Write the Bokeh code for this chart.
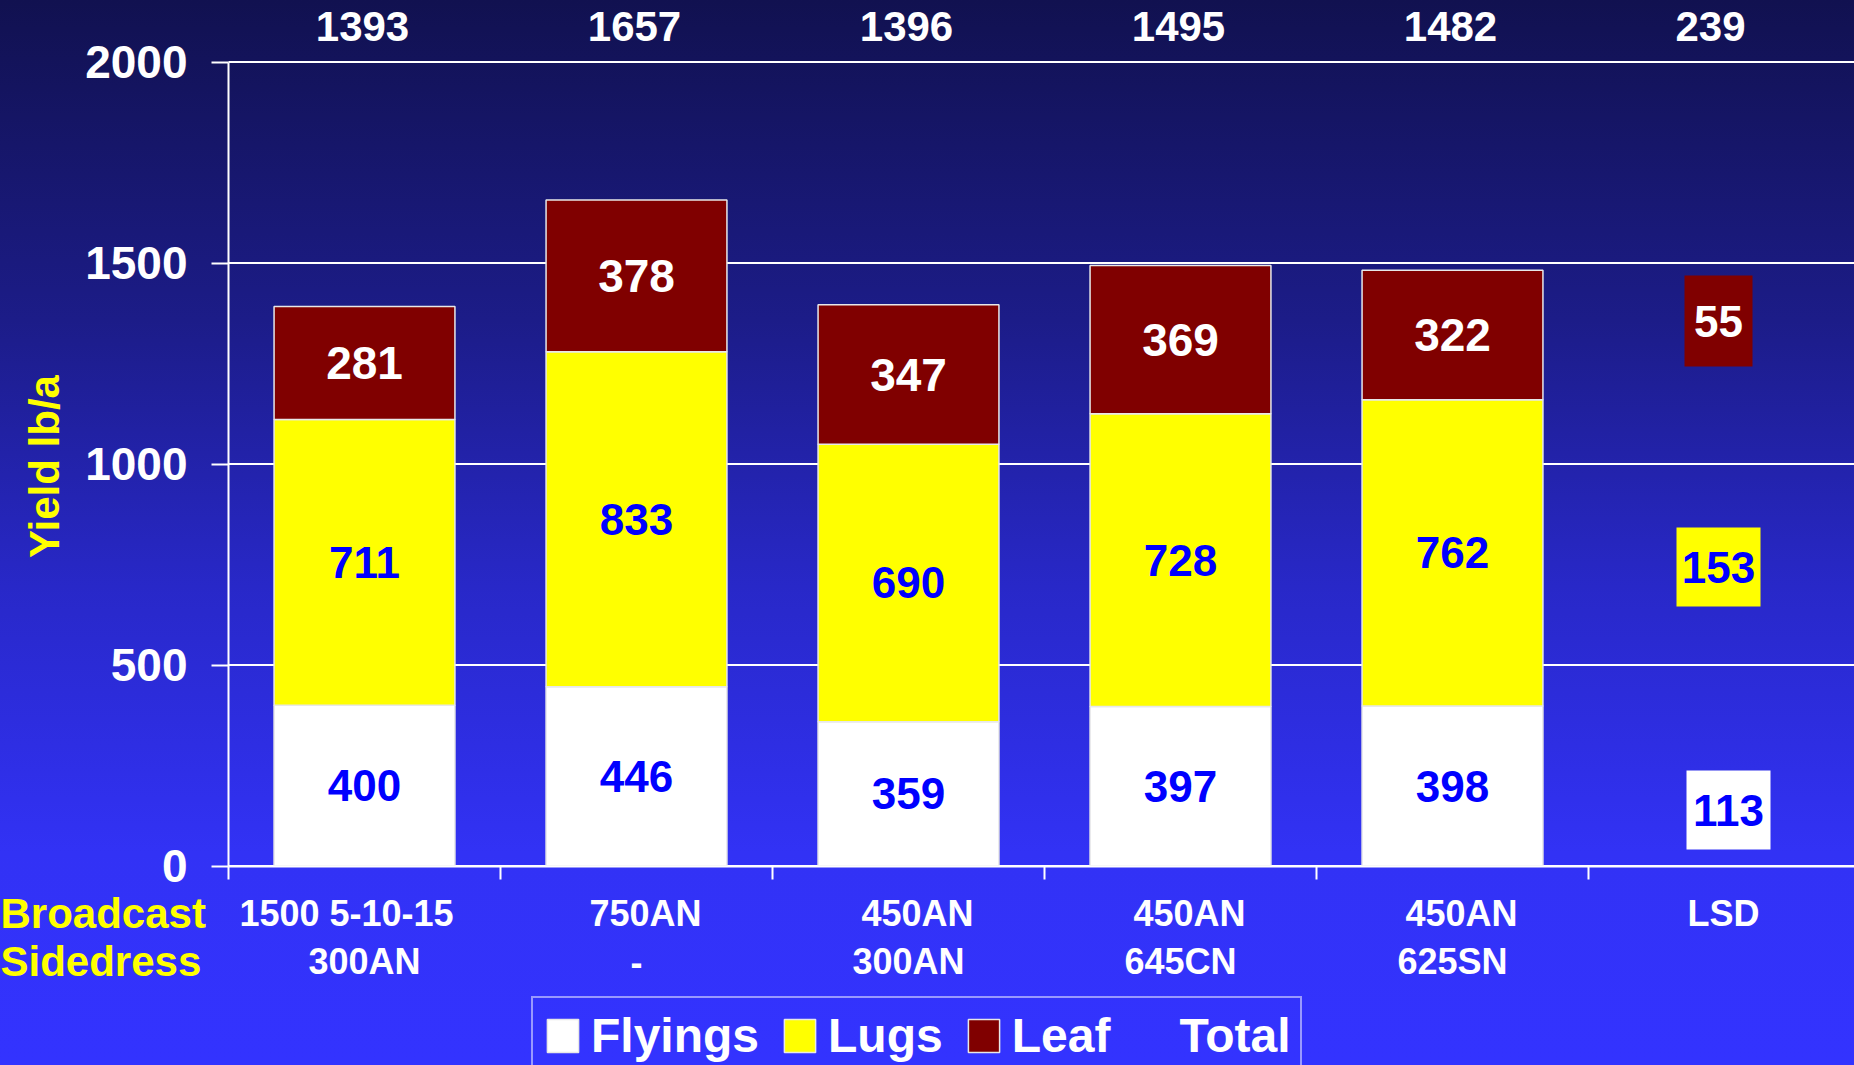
import numpy as np
from bokeh.plotting import figure
from bokeh.models import (Range1d, FixedTicker, ColumnDataSource, LabelSet, Label,
                          Legend, LegendItem)
from bokeh.core.properties import value
from bokeh.embed import file_html
from bokeh.resources import INLINE

# ---------------- data ----------------
broadcast = ["1500 5-10-15", "750AN", "450AN", "450AN", "450AN", "LSD"]
sidedress = ["300AN", "-", "300AN", "645CN", "625SN", ""]
flyings = [400, 446, 359, 397, 398]
lugs = [711, 833, 690, 728, 762]
leaf = [281, 378, 347, 369, 322]
totals = [1393, 1657, 1396, 1495, 1482]
lsd_flyings = 113
lsd_lugs = 153
lsd_leaf = 55
lsd_total = 239
y_ticks = [0, 500, 1000, 1500, 2000]
series_names = ["Flyings", "Lugs", "Leaf", "Total"]
row_headers = ["Broadcast", "Sidedress"]
axis_title = "Yield lb/a"

# ---------------- layout / style ----------------
W, H = 1854, 1065
X0_PX = 228          # pixel of x = 0 (y axis)
CAT_PX = 272         # pixels per category
Y0_PX = 865.5        # pixel of y = 0
PPY = 0.402          # pixels per lb/a
FONT = "Liberation Sans"
BLUE = "#0000ff"
YELLOW = "#ffff00"
MAROON = "#800000"
BAR_W = 0.665
BROADCAST_DX = [-18, 9, 9, 9, 9, -1]     # label nudges (pixels)
TOTAL_DX = [-2, -2, -2, -2, -2, -14]


def px_x(px):
    return (px - X0_PX) / CAT_PX


def px_y(py):
    return (Y0_PX - py) / PPY


p = figure(width=W, height=H,
           x_range=Range1d(px_x(0), px_x(W)), y_range=Range1d(px_y(H), px_y(0)),
           output_backend="svg", toolbar_location=None,
           min_border_left=0, min_border_right=0, min_border_top=0, min_border_bottom=0,
           background_fill_alpha=0, border_fill_alpha=0, outline_line_color=None)
p.styles = {
    "position": "fixed", "left": "0px", "top": "0px",
    "background": "linear-gradient(to bottom, #111150 0%, #1c1c88 30%, #2828c8 55%, #3232f5 80%, #3333ff 100%)",
}

n = len(flyings)
n_cat = n + 1

# axes (drawn at data zero, spanning only the data area)
p.yaxis.fixed_location = 0
p.yaxis.bounds = (y_ticks[0], y_ticks[-1])
p.yaxis.ticker = FixedTicker(ticks=y_ticks)
p.yaxis.major_label_text_font = FONT
p.yaxis.major_label_text_font_style = "bold"
p.yaxis.major_label_text_font_size = "46px"
p.yaxis.major_label_text_color = "white"
p.yaxis.axis_line_color = "white"
p.yaxis.axis_line_width = 2
p.yaxis.major_tick_line_color = "white"
p.yaxis.major_tick_line_width = 2
p.yaxis.major_tick_out = 17
p.yaxis.major_tick_in = 0
p.yaxis.minor_tick_line_color = None
p.yaxis.major_label_standoff = 24

p.xaxis.fixed_location = 0
p.xaxis.bounds = (0, n_cat)
p.xaxis.ticker = FixedTicker(ticks=list(range(n_cat)))
p.xaxis.major_label_overrides = {i: "" for i in range(n_cat)}
p.xaxis.axis_line_color = "white"
p.xaxis.axis_line_width = 2
p.xaxis.major_tick_line_color = "white"
p.xaxis.major_tick_line_width = 2
p.xaxis.major_tick_out = 13
p.xaxis.major_tick_in = 0
p.xaxis.minor_tick_line_color = None

p.xgrid.visible = False
p.ygrid.visible = False

# horizontal grid lines
p.segment(x0=[0] * len(y_ticks), x1=[n_cat] * len(y_ticks), y0=y_ticks, y1=y_ticks,
          line_color="white", line_width=2)

# stacked bars
x = np.arange(n) + 0.5
fly = np.array(flyings, dtype=float)
lug = np.array(lugs, dtype=float)
lf = np.array(leaf, dtype=float)
src = ColumnDataSource(dict(
    x=x,
    fly_top=fly,
    lug_bottom=fly, lug_top=fly + lug,
    leaf_bottom=fly + lug, leaf_top=fly + lug + lf,
    fly_mid=fly / 2, lug_mid=fly + lug / 2, leaf_mid=fly + lug + lf / 2,
    fly_txt=[str(v) for v in flyings],
    lug_txt=[str(v) for v in lugs],
    leaf_txt=[str(v) for v in leaf],
))

r_fly = p.vbar(x="x", bottom=0, top="fly_top", width=BAR_W, source=src,
               fill_color="white", line_color="#e8e8e8", line_width=1.5)
r_lug = p.vbar(x="x", bottom="lug_bottom", top="lug_top", width=BAR_W, source=src,
               fill_color=YELLOW, line_color="#e8e8e8", line_width=1.5)
r_leaf = p.vbar(x="x", bottom="leaf_bottom", top="leaf_top", width=BAR_W, source=src,
                fill_color=MAROON, line_color="#e8e8e8", line_width=1.5)
r_total = p.vbar(x=[], top=[], width=BAR_W, fill_alpha=0, line_alpha=0)


def labels(source, xf, yf, tf, color, size, align="center", dx=0):
    return LabelSet(x=xf, y=yf, text=tf, source=source, x_offset=dx,
                    text_align=align, text_baseline="middle",
                    text_color=color, text_font=value(FONT),
                    text_font_style="bold", text_font_size=size)


p.add_layout(labels(src, "x", "fly_mid", "fly_txt", BLUE, "44px"))
p.add_layout(labels(src, "x", "lug_mid", "lug_txt", BLUE, "44px"))
p.add_layout(labels(src, "x", "leaf_mid", "leaf_txt", "white", "46px"))

# LSD column boxes
lsd_src = ColumnDataSource(dict(
    x=[px_x(1728), px_x(1718), px_x(1718)],
    y=[px_y(809.5), px_y(566.5), px_y(320.5)],
    w=[84, 84, 68], h=[79, 79, 91],
    fill=["white", YELLOW, MAROON],
    tc=[BLUE, BLUE, "white"],
    txt=[str(lsd_flyings), str(lsd_lugs), str(lsd_leaf)],
))
p.rect(x="x", y="y", width="w", height="h", width_units="screen", height_units="screen",
       fill_color="fill", line_color=None, source=lsd_src)
p.add_layout(LabelSet(x="x", y="y", text="txt", source=lsd_src,
                      text_align="center", text_baseline="middle",
                      text_color="tc", text_font=value(FONT),
                      text_font_style="bold", text_font_size="44px"))

# totals above the plot
tot_src = ColumnDataSource(dict(
    x=np.arange(n_cat) + 0.5,
    y=[px_y(26)] * n_cat,
    dx=TOTAL_DX,
    txt=[str(v) for v in totals] + [str(lsd_total)],
))
p.add_layout(labels(tot_src, "x", "y", "txt", "white", "42px", dx="dx"))

# category labels below the axis
cat_src = ColumnDataSource(dict(
    x=np.arange(n_cat) + 0.5,
    y1=[px_y(913)] * n_cat,
    y2=[px_y(961)] * n_cat,
    dx=BROADCAST_DX,
    b=broadcast, s=sidedress,
))
p.add_layout(labels(cat_src, "x", "y1", "b", "white", "36px", dx="dx"))
p.add_layout(labels(cat_src, "x", "y2", "s", "white", "36px"))

# row headers
hdr_src = ColumnDataSource(dict(
    x=[px_x(0), px_x(0)], y=[px_y(913), px_y(961)], txt=row_headers,
))
p.add_layout(labels(hdr_src, "x", "y", "txt", YELLOW, "42px", align="left"))

# y axis title
p.add_layout(Label(x=px_x(43.5), y=px_y(466), text=axis_title, angle=np.pi / 2,
                   text_align="center", text_baseline="middle",
                   text_color=YELLOW, text_font=FONT, text_font_style="bold",
                   text_font_size="42px"))

# legend
legend = Legend(items=[LegendItem(label=series_names[0], renderers=[r_fly]),
                       LegendItem(label=series_names[1], renderers=[r_lug]),
                       LegendItem(label=series_names[2], renderers=[r_leaf]),
                       LegendItem(label=series_names[3], renderers=[r_total])],
                orientation="horizontal", location=(531, -10),
                label_text_font=FONT, label_text_font_style="bold",
                label_text_font_size="48px", label_text_color="white",
                glyph_width=39, glyph_height=41, label_standoff=9, spacing=21,
                padding=10, margin=0, border_line_color="white", border_line_width=2,
                background_fill_alpha=0)
p.add_layout(legend)

open("out.html", "w").write(file_html(p, INLINE))
